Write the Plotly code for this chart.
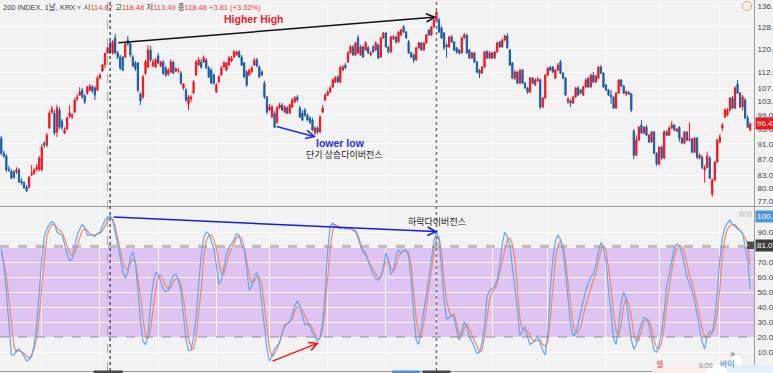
import math
import plotly.graph_objects as go

# ---------------- data ----------------
open_ = [92.5,88.5,87.8,84.5,84.0,83.8,83.8,84.3,81.6,81.2,
80.2,80.2,83.1,83.5,84.5,84.5,84.3,91.2,90.6,95.3,
99.8,99.5,94.2,100.4,97.2,93.9,95.0,98.6,98.4,99.8,
103.7,104.9,106.4,104.6,105.5,106.4,107.4,107.1,106.4,110.2,
112.5,114.67,118.6,122.1,118.6,123.9,118.6,117.2,117.2,117.2,
123.2,121.8,117.2,115.2,115.2,105.2,104.3,111.8,113.8,119.6,
114.2,113.8,117.6,114.2,115.5,113.5,111.5,112.2,115.5,112.5,
112.5,111.8,107.1,106.4,102.2,103.7,105.5,111.2,114.5,115.5,
115.5,116.2,113.5,112.8,111.2,105.8,109.0,111.2,113.8,112.8,
114.5,115.9,117.2,117.9,119.0,117.2,115.2,112.2,111.2,112.2,
114.5,116.2,113.8,112.2,108.6,104.3,100.4,98.4,99.5,96.9,
101.0,101.9,99.8,101.0,99.5,101.3,102.8,104.3,101.0,99.5,
100.4,98.9,98.1,97.5,93.9,95.3,94.2,99.8,103.4,104.9,
105.8,107.4,109.0,110.6,109.0,112.8,114.5,115.5,118.6,120.7,
117.9,123.9,117.9,120.7,119.6,120.4,117.9,120.7,119.6,121.4,
117.2,123.9,125.7,120.7,119.0,123.6,124.3,122.5,125.0,128.0,
126.1,122.5,118.6,117.9,116.2,120.4,122.1,119.6,122.1,126.8,
125.0,128.0,130.2,130.6,127.6,125.7,121.4,120.7,124.3,122.5,
120.4,119.6,118.6,123.9,125.0,119.6,116.9,118.6,115.5,112.8,
111.8,113.8,119.0,116.9,118.6,116.9,119.0,122.5,120.7,123.2,
124.6,119.6,115.2,110.2,112.2,108.6,112.8,108.6,107.1,105.8,
110.2,108.0,109.3,109.6,101.3,104.0,111.2,113.8,113.8,110.2,
112.8,115.5,111.8,110.2,102.8,103.1,102.5,104.3,107.1,106.4,
104.9,107.4,110.2,107.4,111.2,109.0,110.2,113.8,111.8,108.0,
106.4,104.9,104.3,101.0,105.5,109.6,107.7,105.2,105.8,105.2,
94.4,88.0,92.0,96.1,93.9,95.5,93.3,91.5,94.2,88.5,
85.8,90.1,87.3,94.2,93.3,95.3,96.1,94.4,95.5,92.5,
91.2,94.2,92.0,92.3,88.8,92.5,87.3,87.5,84.3,85.0,
87.3,78.6,81.9,86.3,91.5,95.3,98.4,98.9,100.4,104.0,
101.0,108.3,105.5,101.3,103.4,98.1,94.7]

high = [93.1,89.1,88.3,85.3,84.5,84.3,85.0,84.8,82.3,81.6,
80.7,82.8,85.5,84.8,85.8,87.8,90.9,91.7,93.9,100.1,
101.6,100.4,101.9,101.3,97.8,95.5,98.6,101.9,99.5,104.0,
105.2,107.4,107.1,105.2,107.7,108.3,108.0,107.7,110.9,111.8,
114.8,118.48,121.1,122.8,123.2,125.4,119.3,117.9,117.6,122.1,
124.6,122.5,117.9,115.9,115.5,105.8,111.2,116.2,121.4,121.1,
116.5,116.9,118.6,115.9,116.2,114.2,113.5,116.5,115.9,113.8,
113.5,112.5,108.6,107.1,104.9,104.9,109.6,116.2,117.2,116.5,
117.6,116.9,114.2,113.5,111.8,108.6,111.2,114.2,115.9,115.5,
117.6,117.6,119.6,119.3,119.6,117.9,115.5,112.8,113.2,114.2,
116.9,116.9,114.5,112.8,109.3,104.6,102.2,101.9,100.1,101.6,
102.5,102.5,101.9,101.6,102.2,104.0,104.6,104.9,101.6,100.4,
101.0,99.5,98.6,98.1,95.8,95.8,98.9,101.9,105.5,106.4,
107.7,110.2,110.9,111.2,114.2,114.5,115.2,119.3,121.4,121.4,
122.5,125.0,121.4,121.1,122.8,121.1,119.3,121.4,122.8,121.8,
124.3,126.1,126.1,121.1,124.6,125.0,124.6,126.5,127.2,128.7,
126.5,123.2,119.0,118.3,120.7,122.5,122.5,122.5,125.4,127.2,
128.3,131.0,134.8,131.4,128.3,126.1,122.1,124.6,125.0,122.8,
120.7,120.0,124.3,125.7,125.4,120.0,119.0,119.0,115.9,113.2,
114.2,119.3,119.6,119.3,119.0,119.3,122.5,122.8,123.6,125.0,
125.7,120.0,115.5,112.8,112.5,113.2,113.2,109.0,107.4,110.6,
110.6,110.2,110.6,110.2,104.3,111.5,113.8,114.2,114.2,113.2,
115.2,116.2,112.2,110.6,104.3,103.7,104.6,107.4,107.7,106.8,
107.7,110.2,110.6,111.5,112.2,111.2,114.2,114.5,112.2,108.3,
106.8,106.4,104.6,105.8,109.9,109.9,108.0,106.4,106.1,105.5,
95.0,93.3,95.8,97.5,95.8,96.1,93.6,94.4,94.4,88.8,
90.4,90.6,94.7,94.7,95.8,97.2,96.4,95.3,95.8,92.8,
94.4,94.4,96.9,92.5,92.8,92.8,88.5,88.0,85.5,88.8,
87.8,82.3,86.5,92.3,93.6,96.7,101.0,101.0,104.3,104.6,
107.7,109.6,105.8,104.9,104.0,98.9,96.9]

low = [88.0,87.3,83.8,83.8,82.1,82.1,83.3,81.2,80.7,79.8,
79.1,79.8,82.8,83.1,84.0,84.0,84.0,89.9,90.1,95.0,
99.2,93.3,92.8,95.0,94.7,93.6,94.7,98.1,97.8,99.5,
103.1,104.6,103.7,102.2,104.9,106.1,105.5,103.4,106.1,109.9,
112.2,113.49,118.3,118.3,118.0,118.3,116.5,112.8,112.5,116.9,
121.1,117.2,113.8,112.5,105.8,101.9,103.7,111.2,113.5,115.5,
113.8,113.5,114.8,113.8,111.2,110.6,110.9,111.8,111.5,112.2,
111.8,108.0,106.4,102.8,100.4,102.8,105.2,110.9,114.2,113.2,
115.2,113.2,110.2,108.3,108.0,105.5,108.6,110.9,113.5,112.5,
114.2,115.5,116.9,117.6,116.9,114.2,110.2,107.4,110.9,111.8,
114.2,113.8,110.2,110.9,103.7,99.2,100.1,98.1,95.3,96.4,
100.7,100.1,99.5,99.2,99.2,101.0,102.5,102.8,98.1,97.2,
98.4,97.2,96.4,94.4,93.3,93.6,93.9,99.5,103.1,104.6,
105.5,107.1,108.6,108.6,108.6,112.5,113.2,115.2,118.3,117.6,
117.6,118.3,117.6,116.9,119.3,118.3,117.6,118.6,119.3,116.5,
116.9,123.6,120.4,118.3,118.6,123.2,121.8,122.1,124.6,125.7,
123.6,118.3,116.9,115.2,115.9,120.0,119.3,119.3,121.8,124.6,
124.6,127.6,129.9,125.7,123.6,119.6,116.9,120.4,122.1,119.3,
118.3,118.0,118.3,123.6,118.3,116.5,116.5,115.2,111.8,110.2,
111.5,113.5,116.5,116.5,116.5,116.5,118.6,120.4,120.4,122.8,
120.0,114.2,109.9,109.6,108.3,108.3,108.3,106.8,105.2,105.5,
108.3,107.7,109.0,100.7,101.0,103.7,110.9,112.5,111.8,109.9,
112.5,111.5,109.9,104.6,102.2,101.3,102.2,104.0,104.6,105.2,
104.6,107.1,107.1,107.1,108.6,108.6,109.9,111.5,107.1,106.1,
104.6,102.2,100.7,100.7,105.2,107.4,105.2,104.6,104.9,99.8,
87.0,87.8,91.7,93.6,93.6,93.1,91.2,91.2,88.3,85.3,
85.5,86.8,87.0,93.1,93.1,95.0,94.4,94.2,91.5,90.9,
90.9,91.7,91.5,88.5,88.5,87.0,87.0,84.5,81.2,84.8,
82.1,78.0,81.6,86.0,91.2,94.4,98.1,98.6,100.1,100.7,
100.7,105.2,101.0,100.4,97.8,95.3,94.4]

close = [88.5,87.8,84.3,84.3,82.3,82.6,84.3,81.4,81.2,80.0,
79.3,82.6,83.5,84.3,85.0,87.3,90.1,90.6,93.3,99.5,
100.7,93.9,101.0,95.5,95.5,94.7,98.1,99.5,98.9,103.4,
104.3,105.8,104.3,102.8,107.4,107.7,106.1,104.9,110.2,111.2,
114.5,118.48,120.4,118.6,122.5,118.6,117.2,113.5,112.8,121.8,
121.8,117.9,114.2,113.2,106.4,103.1,110.6,115.5,119.6,116.2,
115.5,116.2,115.2,115.5,111.8,111.2,112.8,115.5,111.8,113.2,
112.8,108.6,108.3,103.4,104.3,104.3,109.0,115.5,116.2,113.8,
116.9,113.5,110.6,108.6,108.6,108.0,110.6,113.5,115.2,115.2,
116.9,116.9,119.0,119.0,117.2,114.5,110.6,108.0,112.8,113.5,
116.2,114.2,110.6,111.2,104.3,99.8,101.3,101.3,95.5,101.0,
101.9,100.4,101.3,99.5,101.9,103.4,104.0,103.4,98.4,97.5,
98.9,97.5,96.9,94.7,95.3,94.2,98.4,101.0,104.9,105.8,
107.1,109.6,110.2,109.0,113.8,113.8,113.5,118.6,120.7,117.9,
122.1,118.6,120.7,117.2,122.1,118.6,118.6,119.0,122.1,116.9,
123.9,125.7,120.7,119.0,124.3,124.3,122.5,126.1,126.8,126.1,
123.9,118.6,117.2,116.2,120.4,122.1,119.6,122.1,125.0,125.0,
128.0,130.6,133.6,126.1,123.9,120.4,120.7,124.3,122.5,119.6,
119.0,118.6,123.9,125.0,118.6,116.9,118.6,115.5,112.2,111.8,
113.8,119.0,116.9,118.6,116.9,119.0,122.1,120.7,123.2,124.6,
120.4,114.5,110.2,112.2,108.6,112.8,108.6,107.1,105.8,110.2,
108.6,109.6,109.9,101.3,104.0,111.2,113.5,112.8,112.2,112.8,
114.5,111.8,110.2,104.9,103.7,102.5,104.3,107.1,104.9,105.5,
107.4,109.6,107.4,111.2,109.0,110.9,113.8,111.8,107.4,106.4,
104.9,104.3,101.0,105.5,109.6,107.7,105.5,105.8,105.2,100.4,
88.0,92.0,95.5,93.9,95.5,93.3,91.5,94.2,88.5,85.8,
90.1,87.3,94.2,93.3,95.3,96.1,94.7,95.0,92.5,91.2,
94.2,92.0,92.3,88.8,92.5,87.5,88.0,85.0,85.0,87.8,
82.3,81.9,86.3,92.0,92.8,96.1,100.4,100.4,104.0,101.0,
107.1,105.5,101.3,104.3,98.1,95.5,96.42]

stoch_k = [79,68,50,28,8,8,11,12,10,7,
4,5,7,15,28,50,72,87,92,95,
97,96,90,89,88,82,75,71,72,81,
88,92,95,93,88,88,88,87,89,90,
94,98,100,101,98,91,82,73,64,59,
63,73,77,70,50,31,17,15,21,42,
56,63,62,57,52,50,51,57,61,62,
58,51,36,18,11,11,20,33,55,74,
86,90,89,84,79,68,55,58,68,75,
80,82,85,89,88,81,79,63,51,54,
61,63,56,42,26,12,4,7,12,14,
16,23,28,29,30,35,41,44,41,34,
28,29,27,23,20,17,20,30,50,78,
94,96,94,93,92,93,92,93,93,91,
90,86,81,76,75,70,66,62,59,58,
60,67,76,71,62,64,74,78,76,78,
78,74,58,36,18,15,25,38,48,61,
74,84,90,85,66,45,32,33,35,33,
24,18,24,30,27,20,17,13,9,10,
16,28,47,51,52,54,58,68,82,90,
87,81,67,56,38,21,24,27,20,15,
16,18,21,16,11,8,22,52,72,84,
88,85,78,63,45,28,21,22,29,36,
45,51,56,60,62,68,77,83,80,70,
52,33,19,15,27,43,50,45,33,18,
12,15,23,29,33,32,28,19,11,10,
15,24,37,54,63,72,79,82,81,76,
67,60,56,51,44,36,26,17,12,21,
24,23,33,50,72,86,93,96,98,95,
94,92,91,89,81,72,52]

stoch_d = [78,70,61,45,30,14,10,11,10,9,
7,6,8,12,20,34,53,72,87,92,
95,95,93,91,90,86,81,76,74,76,
81,86,91,92,91,89,88,88,89,89,
91,94,98,100,99,94,86,78,70,66,
65,69,72,70,60,48,32,21,19,25,
39,52,60,61,58,54,52,53,57,59,
59,55,46,31,19,13,12,20,34,52,
73,84,88,88,85,79,70,63,62,68,
75,79,82,86,87,86,80,71,61,56,
57,61,60,55,40,24,12,7,9,12,
17,21,27,29,30,32,37,40,40,38,
34,30,28,26,22,19,19,25,38,62,
80,91,95,94,93,93,93,92,92,92,
91,88,82,78,76,71,68,65,61,59,
60,65,70,71,66,64,67,74,76,77,
78,76,68,50,32,22,20,29,40,50,
64,77,85,87,77,58,44,37,34,35,
29,22,20,26,29,25,21,17,13,10,
11,20,33,45,50,52,56,63,71,79,
85,86,82,72,50,32,25,24,24,21,
18,17,18,18,15,14,17,32,55,72,
81,84,81,72,56,40,28,23,23,27,
35,41,47,53,58,62,69,78,81,78,
66,53,35,24,21,28,41,46,42,34,
22,17,18,25,30,32,31,26,18,13,
12,16,27,42,54,64,74,79,81,80,
76,68,61,56,50,42,33,26,20,20,
21,23,26,36,52,75,86,92,94,95,
95,93,91,89,86,82,68]

price_ticks = [77, 80, 83, 87, 91, 95, 99, 103, 107, 112, 120, 128, 136]
stoch_ticks = [10, 20, 30, 40, 50, 60, 70, 80, 90]
month_starts = [16, 39, 62, 85, 106, 129, 152, 172, 194, 216, 239, 260, 284]
band_low, band_high = 20, 80
last_price = 96.42
k_label = 100.47
cross_value = 81.077
cross_day = 42          # crosshair candle (O 114.67 H 118.48 L 113.49 C 118.48)
pivot_day_1 = 43        # first divergence pivot
pivot_day_2 = 172       # second divergence pivot

# drawn trend lines (day, value)
hh_line = ((45.7, 122.1), (172, 131.7))
ll_line = ((108.2, 95.8), (124.4, 92.8))
osc_down_line = ((43.8, 100.0), (172.5, 90.2))
osc_up_line = ((106.6, 3.5), (125.6, 16.2))

days = list(range(len(close)))

UP = '#f5141d'
DOWN = '#1b5ca8'
BG = '#f2f2f2'
GRID = '#f9f9fa'
AX = '#9c9c9c'
LAT = 'Liberation Sans, Arial, Noto Sans CJK KR'
KR = 'Noto Sans CJK KR, Liberation Sans'

lg = math.log10

fig = go.Figure()
fig.add_trace(go.Candlestick(
    x=days, open=open_, high=high, low=low, close=close,
    increasing=dict(line=dict(color=UP, width=1), fillcolor=UP),
    decreasing=dict(line=dict(color=DOWN, width=1), fillcolor=DOWN),
    whiskerwidth=0, xaxis='x', yaxis='y', showlegend=False))
fig.add_trace(go.Scatter(x=days, y=stoch_d, mode='lines',
                         line=dict(color='#f2895f', width=1.2),
                         xaxis='x2', yaxis='y2', showlegend=False))
fig.add_trace(go.Scatter(x=days, y=stoch_k, mode='lines',
                         line=dict(color='#62a6f6', width=1.2),
                         xaxis='x2', yaxis='y2', showlegend=False))

x_range = [-0.51, 297.5]
top_dom = [165 / 371, 1]
bot_dom = [0, 164 / 371]

fig.update_layout(
    width=773, height=373,
    margin=dict(l=0, r=19, t=0, b=2, autoexpand=False),
    paper_bgcolor=BG, plot_bgcolor=BG,
    showlegend=False, hovermode=False,
    xaxis=dict(domain=[0, 1], anchor='y', range=x_range, tickvals=month_starts,
               showticklabels=False, ticks='', showgrid=True, gridcolor=GRID,
               gridwidth=1, zeroline=False, showline=False, automargin=False,
               rangeslider=dict(visible=False), fixedrange=True),
    xaxis2=dict(domain=[0, 1], anchor='y2', range=x_range, matches='x',
                tickvals=month_starts, showticklabels=False, ticks='',
                showgrid=True, gridcolor=GRID, zeroline=False, automargin=False,
                showline=True, linecolor=AX, linewidth=1),
    yaxis=dict(domain=top_dom, anchor='x', type='log',
               range=[lg(75.9), lg(138.4)], side='right', automargin=False,
               tickvals=price_ticks, ticktext=[f'{v:.2f}' for v in price_ticks],
               tickfont=dict(family=LAT, size=8, color='#444'),
               ticks='', ticklabelstandoff=1,
               showgrid=True, gridcolor=GRID, zeroline=False,
               showline=True, linecolor=AX, linewidth=1),
    yaxis2=dict(domain=bot_dom, anchor='x2', range=[-2.67, 106.7], side='right',
                automargin=False,
                tickvals=stoch_ticks, ticktext=[f'{v:.3f}' for v in stoch_ticks],
                tickfont=dict(family=LAT, size=8, color='#444'),
                ticks='', ticklabelstandoff=1,
                showgrid=True, gridcolor=GRID, zeroline=False,
                showline=True, linecolor=AX, linewidth=1),
)

def px_x(p):
    return p / 754.0

def px_y(p):
    return 1 - p / 371.0

shapes = [
    # overbought / oversold band
    dict(type='rect', xref='paper', yref='y2', x0=0, x1=1, y0=band_low, y1=band_high,
         fillcolor='#dfc4f3', line=dict(width=0), layer='below'),
    dict(type='line', xref='paper', yref='y2', x0=0, x1=1, y0=band_high, y1=band_high,
         line=dict(color='#8c8c8c', width=1, dash='dash')),
    dict(type='line', xref='paper', yref='y2', x0=0, x1=1, y0=band_low, y1=band_low,
         line=dict(color='#8c8c8c', width=1, dash='dash')),
    dict(type='line', xref='paper', yref='y2', x0=0, x1=1, y0=cross_value, y1=cross_value,
         line=dict(color='#b4b4b4', width=1, dash='dash')),
    # pane separator
    dict(type='line', xref='paper', yref='paper', x0=0, x1=1.03, y0=px_y(206.5), y1=px_y(206.5),
         line=dict(color=AX, width=1)),
    # vertical markers
    dict(type='line', xref='x', yref='paper', x0=cross_day, x1=cross_day, y0=0, y1=1,
         line=dict(color='#a8a8a8', width=1, dash='dash')),
    dict(type='line', xref='x', yref='paper', x0=pivot_day_1, x1=pivot_day_1, y0=0, y1=1,
         line=dict(color='#333333', width=1.2, dash='dot')),
    dict(type='line', xref='x', yref='paper', x0=pivot_day_2, x1=pivot_day_2, y0=0, y1=1,
         line=dict(color='#7a7a7a', width=1.6, dash='dot')),
    # bottom axis date markers (cut off)
    dict(type='rect', xref='x', yref='paper', x0=cross_day - 5.5, x1=cross_day + 6,
         y0=px_y(373), y1=px_y(370.5), fillcolor='#454545', line=dict(width=0)),
    dict(type='rect', xref='x', yref='paper', x0=154.5, x1=165.5,
         y0=px_y(373), y1=px_y(370.5), fillcolor='#4a8fd8', line=dict(width=0)),
    dict(type='rect', xref='x', yref='paper', x0=pivot_day_2 - 5.5, x1=pivot_day_2 + 5.5,
         y0=px_y(373), y1=px_y(370.5), fillcolor='#454545', line=dict(width=0)),
    # small UI bits
    dict(type='circle', xref='paper', yref='paper', x0=px_x(742.5), x1=px_x(751.5),
         y0=px_y(10.5), y1=px_y(1.5), line=dict(color='#f3a56a', width=1), fillcolor='rgba(0,0,0,0)'),
    dict(type='rect', xref='paper', yref='paper', x0=px_x(739), x1=px_x(745),
         y0=px_y(217), y1=px_y(211), fillcolor='#dadada', line=dict(width=0)),
    dict(type='rect', xref='paper', yref='paper', x0=px_x(746), x1=px_x(752),
         y0=px_y(217), y1=px_y(211), fillcolor='#dadada', line=dict(width=0)),
    dict(type='rect', xref='paper', yref='paper', x0=px_x(747), x1=px_x(754),
         y0=px_y(249), y1=px_y(241.5), fillcolor='#4a4a4a', line=dict(width=0)),
    dict(type='circle', xref='paper', yref='paper', x0=px_x(730), x1=px_x(744),
         y0=px_y(368), y1=px_y(354), fillcolor='#ffffff', line=dict(color='#e2e2e2', width=1)),
    dict(type='rect', xref='paper', yref='paper', x0=px_x(652), x1=px_x(706),
         y0=px_y(374), y1=px_y(365), fillcolor='#fdecec', line=dict(width=0)),
    dict(type='rect', xref='paper', yref='paper', x0=px_x(706), x1=px_x(727),
         y0=px_y(374), y1=px_y(365), fillcolor='#ffffff', line=dict(width=0)),
    dict(type='rect', xref='paper', yref='paper', x0=px_x(727), x1=px_x(773),
         y0=px_y(374), y1=px_y(365), fillcolor='#e4effc', line=dict(width=0)),
]

red_txt = '#f23645'
header = ('200 INDEX, 1날, KRX <span style="color:#aaaaaa">▾</span> '
          '시<span style="color:%s">114.67</span> '
          '고<span style="color:%s">118.48</span> '
          '저<span style="color:%s">113.49</span> '
          '종<span style="color:%s">118.48</span> '
          '<span style="color:%s">+3.81 (+3.32%%)</span>') % ((red_txt,) * 5)

def arrow(p0, p1, color, yref, logy=False):
    (x0, y0), (x1, y1) = p0, p1
    if logy:
        y0, y1 = lg(y0), lg(y1)
    return dict(x=x1, y=y1, ax=x0, ay=y0, xref='x' if yref == 'y' else 'x2', yref=yref,
                axref='x' if yref == 'y' else 'x2', ayref=yref, text='', showarrow=True,
                arrowhead=5, arrowsize=1.1, arrowwidth=1.5, arrowcolor=color, standoff=0)

annotations = [
    dict(xref='paper', yref='paper', x=0, y=1, xanchor='left', yanchor='top',
         xshift=1, yshift=0, text=header, showarrow=False,
         font=dict(family=LAT, size=7.5, color='#3a3a3a')),
    dict(xref='x', yref='y', x=99.9, y=lg(131.0), text='<b>Higher High</b>', showarrow=False,
         font=dict(family=LAT, size=10.5, color='#f0202a')),
    dict(xref='x', yref='y', x=134.2, y=lg(91.3), text='<b>lower low</b>', showarrow=False,
         font=dict(family=LAT, size=10.5, color='#2a2ae0')),
    dict(xref='x', yref='y', x=135.8, y=lg(88.3), text='단기 상승다이버전스', showarrow=False,
         font=dict(family=KR, size=9, color='#222222')),
    dict(xref='x2', yref='y2', x=172.4, y=97.3, text='하락다이버전스', showarrow=False,
         font=dict(family=KR, size=9, color='#222222')),
    arrow(hh_line[0], hh_line[1], '#111111', 'y', logy=True),
    arrow(ll_line[0], ll_line[1], '#2030ee', 'y', logy=True),
    arrow(osc_down_line[0], osc_down_line[1], '#1a1ae6', 'y2'),
    arrow(osc_up_line[0], osc_up_line[1], '#f01818', 'y2'),
    # axis value labels
    dict(xref='paper', yref='y', x=1, y=lg(last_price), xanchor='left', xshift=1,
         text=f'{last_price:.2f}', showarrow=False, bgcolor='#f0141d', borderpad=1,
         font=dict(family=LAT, size=8, color='#ffffff')),
    dict(xref='paper', yref='y2', x=1, y=k_label, xanchor='left', xshift=1,
         text=f'{k_label:.2f}', showarrow=False, bgcolor='#5096dc', borderpad=1,
         font=dict(family=LAT, size=8, color='#ffffff')),
    dict(xref='paper', yref='y2', x=1, y=cross_value, xanchor='left', xshift=1,
         text=f'{cross_value:.3f}', showarrow=False, bgcolor='#3d3d3d', borderpad=1,
         font=dict(family=LAT, size=8, color='#ffffff')),
    dict(xref='paper', yref='paper', x=px_x(750.5), y=px_y(245), text='+', showarrow=False,
         font=dict(family=LAT, size=8, color='#ffffff')),
    dict(xref='paper', yref='paper', x=px_x(737), y=px_y(361), text='»', showarrow=False,
         font=dict(family=LAT, size=9, color='#555555')),
    dict(xref='paper', yref='paper', x=px_x(665), y=px_y(371), text='셀', showarrow=False,
         font=dict(family=KR, size=8, color='#f23645')),
    dict(xref='paper', yref='paper', x=px_x(715), y=px_y(371), text='0.00', showarrow=False,
         font=dict(family=LAT, size=7, color='#777777')),
    dict(xref='paper', yref='paper', x=px_x(737), y=px_y(371), text='바이', showarrow=False,
         font=dict(family=KR, size=8, color='#2f7fe0')),
]

fig.update_layout(shapes=shapes, annotations=annotations)
fig.write_html('out.html', config={'displayModeBar': False},
               post_script="document.body.style.margin='0';document.body.style.overflow='hidden';")
